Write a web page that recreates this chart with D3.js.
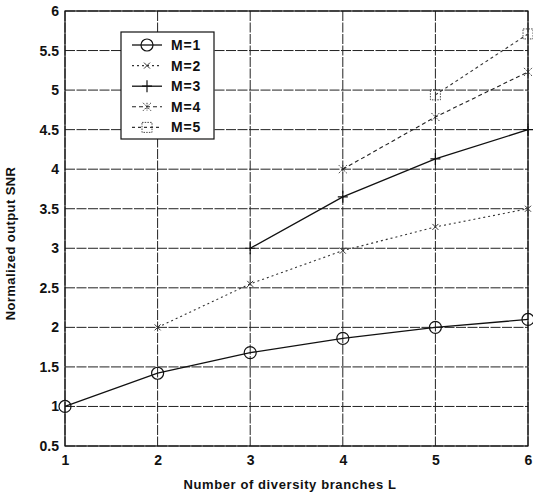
<!DOCTYPE html>
<html>
<head>
<meta charset="utf-8">
<script src="https://cdn.jsdelivr.net/npm/d3@7"></script>
<style>
  body { margin: 0; background: #fff; }
  svg { display: block; font-family: "Liberation Sans", Arial, sans-serif; }
</style>
</head>
<body>
<div id="chart"></div>
<script>
// diversity branches on x, normalized SNR on y, one series per M
const branches = [1, 2, 3, 4, 5, 6];
const yTicks = [0.5, 1, 1.5, 2, 2.5, 3, 3.5, 4, 4.5, 5, 5.5, 6];
const m1 = [1.0, 1.42, 1.68, 1.86, 2.0, 2.1];
const m2 = [null, 2.0, 2.55, 2.97, 3.27, 3.5];
const m3 = [null, null, 3.0, 3.65, 4.13, 4.5];
const m4 = [null, null, null, 4.0, 4.66, 5.23];
const m5 = [null, null, null, null, 4.94, 5.71];
const seriesNames = ['M=1', 'M=2', 'M=3', 'M=4', 'M=5'];

const W = 533, H = 497;
const pLeft = 65, pRight = 528, pTop = 11, pBottom = 446;

const series = [
  { name: seriesNames[0], values: m1, dash: null, marker: 'circle', color: '#111' },
  { name: seriesNames[1], values: m2, dash: '2,3', marker: 'x', color: '#333' },
  { name: seriesNames[2], values: m3, dash: null, marker: 'plus', color: '#111' },
  { name: seriesNames[3], values: m4, dash: '4,3', marker: 'star', color: '#222' },
  { name: seriesNames[4], values: m5, dash: '3,3', marker: 'square', color: '#333' }
];

const x = d3.scaleLinear().domain([1, 6]).range([pLeft, pRight]);
const y = d3.scaleLinear().domain([0.5, 6]).range([pBottom, pTop]);

const svg = d3.select('#chart').append('svg')
  .attr('width', W).attr('height', H);

// grid
const grid = svg.append('g');
grid.selectAll('line.gx').data(branches).join('line')
  .attr('x1', d => x(d)).attr('x2', d => x(d))
  .attr('y1', pTop).attr('y2', pBottom)
  .attr('stroke', '#222').attr('stroke-width', 1).attr('stroke-dasharray', '10,1.5');
grid.selectAll('line.gy').data(yTicks).join('line')
  .attr('x1', pLeft).attr('x2', pRight)
  .attr('y1', d => y(d)).attr('y2', d => y(d))
  .attr('stroke', '#222').attr('stroke-width', 1).attr('stroke-dasharray', '10,1.5');

// frame
svg.append('rect')
  .attr('x', pLeft).attr('y', pTop)
  .attr('width', pRight - pLeft).attr('height', pBottom - pTop)
  .attr('fill', 'none').attr('stroke', '#111').attr('stroke-width', 1.2);

// axes (labels only, MATLAB style)
const xAxis = svg.append('g').attr('transform', `translate(0,${pBottom})`)
  .call(d3.axisBottom(x).tickValues(branches).tickSize(0).tickPadding(9).tickFormat(d3.format('d')));
const yAxis = svg.append('g').attr('transform', `translate(${pLeft},0)`)
  .call(d3.axisLeft(y).tickValues(yTicks).tickSize(0).tickPadding(6).tickFormat(d => d));
[xAxis, yAxis].forEach(a => {
  a.select('.domain').remove();
  a.selectAll('text').attr('font-size', 14).attr('font-weight', 'bold')
    .attr('fill', '#111').attr('font-family', '"Liberation Sans", Arial, sans-serif');
});

svg.append('text')
  .attr('x', 290).attr('y', 489)
  .attr('text-anchor', 'middle')
  .attr('font-size', 13).attr('font-weight', 'bold').attr('letter-spacing', 0.6)
  .attr('fill', '#111')
  .text('Number of diversity branches L');

svg.append('text')
  .attr('transform', `translate(15,${(pTop + pBottom) / 2 + 15}) rotate(-90)`)
  .attr('text-anchor', 'middle')
  .attr('font-size', 13).attr('font-weight', 'bold').attr('letter-spacing', 0.4)
  .attr('fill', '#111')
  .text('Normalized output SNR');

// markers
function drawMarker(g, type, cx, cy, color) {
  if (type === 'circle') {
    g.append('circle').attr('cx', cx).attr('cy', cy).attr('r', 6)
      .attr('fill', 'none').attr('stroke', color).attr('stroke-width', 1.2);
  } else if (type === 'x') {
    g.append('path').attr('d', `M${cx-3},${cy-3}L${cx+3},${cy+3}M${cx-3},${cy+3}L${cx+3},${cy-3}`)
      .attr('stroke', color).attr('stroke-width', 1);
  } else if (type === 'plus') {
    g.append('path').attr('d', `M${cx-5},${cy}L${cx+5},${cy}M${cx},${cy-6}L${cx},${cy+6}`)
      .attr('stroke', color).attr('stroke-width', 1.2);
  } else if (type === 'star') {
    g.append('path').attr('d', `M${cx-4},${cy-4}L${cx+4},${cy+4}M${cx-4},${cy+4}L${cx+4},${cy-4}M${cx},${cy-4}L${cx},${cy+4}`)
      .attr('stroke', color).attr('stroke-width', 0.9).attr('stroke-dasharray', '1.5,1');
  } else if (type === 'square') {
    g.append('rect').attr('x', cx - 5).attr('y', cy - 5).attr('width', 10).attr('height', 10)
      .attr('fill', 'none').attr('stroke', color).attr('stroke-width', 0.9).attr('stroke-dasharray', '1.5,1.2');
  }
}

const line = d3.line()
  .defined(d => d.v != null)
  .x(d => x(d.b)).y(d => y(d.v));

series.forEach(s => {
  const pts = branches.map((b, i) => ({ b, v: s.values[i] }));
  const g = svg.append('g');
  g.append('path').datum(pts).attr('d', line)
    .attr('fill', 'none').attr('stroke', s.color)
    .attr('stroke-width', s.dash ? 1.1 : 1.3)
    .attr('stroke-dasharray', s.dash);
  pts.filter(p => p.v != null).forEach(p => drawMarker(g, s.marker, x(p.b), y(p.v), s.color));
});

// legend
const lg = svg.append('g').attr('transform', 'translate(121,32)');
lg.append('rect').attr('width', 93).attr('height', 107)
  .attr('fill', '#fff').attr('stroke', '#111').attr('stroke-width', 1.2);
series.forEach((s, i) => {
  const ly = 13 + i * 20.6;
  lg.append('line').attr('x1', 11).attr('x2', 41).attr('y1', ly).attr('y2', ly)
    .attr('stroke', s.color).attr('stroke-width', s.dash ? 1.1 : 1.3)
    .attr('stroke-dasharray', s.dash);
  drawMarker(lg, s.marker, 26, ly, s.color);
  lg.append('text').attr('x', 50).attr('y', ly + 5)
    .attr('font-size', 14).attr('font-weight', 'bold').attr('letter-spacing', 0.8).attr('fill', '#111')
    .text(s.name);
});
</script>
</body>
</html>
